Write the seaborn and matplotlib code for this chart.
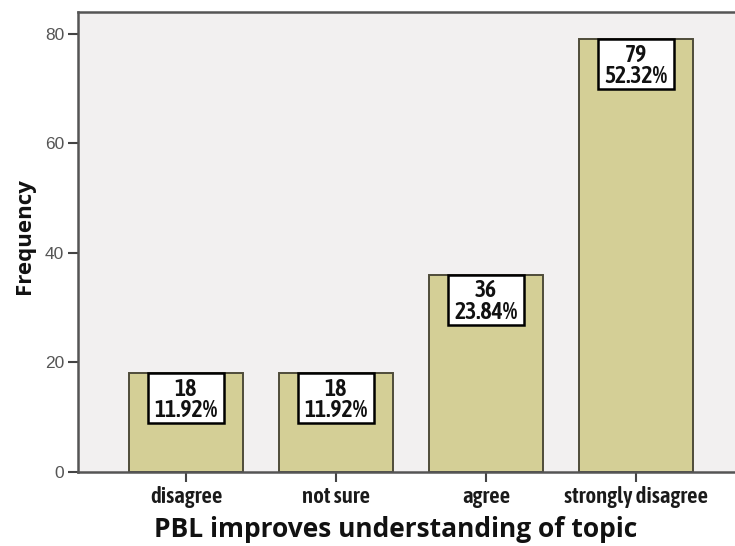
import matplotlib
matplotlib.use("Agg")
import matplotlib.pyplot as plt
from matplotlib.patches import Rectangle
import seaborn as sns
import pandas as pd

categories = ["disagree", "not sure", "agree", "strongly disagree"]
counts = [18, 18, 36, 79]
percents = ["11.92%", "11.92%", "23.84%", "52.32%"]
yticks = [0, 20, 40, 60, 80]

df = pd.DataFrame({"category": categories, "count": counts})

sns.set_theme(style="white")
plt.rcParams["font.family"] = ["DejaVu Sans"]
COND = ["Asap Condensed", "DejaVu Sans"]

fig = plt.figure(figsize=(7.35, 5.46), dpi=100)
ax_w = 1.0 - 78/735 + 0.012
ax = fig.add_axes([78/735, 74/546, ax_w, (472-12)/546])
ax.set_facecolor("#F2F0F0")

sns.barplot(data=df, x="category", y="count", ax=ax, color="#D4CF96",
            width=0.76, edgecolor="#4F4C3A", linewidth=1.4, saturation=1)

ax.set_xlim(-0.72, 3.72)
ax.set_ylim(0, 84)
ax.set_yticks(yticks)
ax.set_yticklabels([str(v) for v in yticks], fontsize=12.5, color="#555555",
                   family=["Liberation Sans", "DejaVu Sans"])
ax.set_xticks(range(len(categories)))
ax.set_xticklabels(categories, family=COND, fontweight="semibold", fontsize=16.5,
                   color="#1a1a1a")
ax.tick_params(axis="both", which="both", length=7, width=1.5, color="#444444",
               bottom=True, left=True)
ax.tick_params(axis="y", pad=3)
ax.tick_params(axis="x", pad=3)

for s in ["left", "top", "bottom"]:
    ax.spines[s].set_visible(True)
    ax.spines[s].set_color("#555555")
    ax.spines[s].set_linewidth(1.8)
ax.spines["right"].set_visible(False)

ax.set_xlabel("PBL improves understanding of topic", fontsize=19, fontweight="bold",
              family=["Open Sans", "DejaVu Sans"], color="#111111")
ax_px = ax_w * 735
ax.xaxis.set_label_coords((396 - 78) / ax_px, -0.095)
ax.set_ylabel("Frequency", fontsize=16, fontweight="bold",
              family=["Open Sans", "DejaVu Sans"], color="#111111")
ax.yaxis.set_label_coords((35 - 78) / ax_px, 0.512)

# label boxes: size in data units (76 px wide, 50 px tall)
box_w = 76 / 150
box_h = 50 / 5.475
for i, (c, p) in enumerate(zip(counts, percents)):
    ax.add_patch(Rectangle((i - box_w / 2, c - box_h), box_w, box_h,
                           facecolor="white", edgecolor="black", linewidth=1.8,
                           zorder=4))
    ax.text(i, c - box_h / 2 - 0.3, f"{c}\n{p}", ha="center", va="center",
            family=COND, fontweight="semibold", fontsize=17,
            color="#111111", linespacing=0.9, zorder=5)

fig.savefig("out.png", dpi=100, facecolor="white")
